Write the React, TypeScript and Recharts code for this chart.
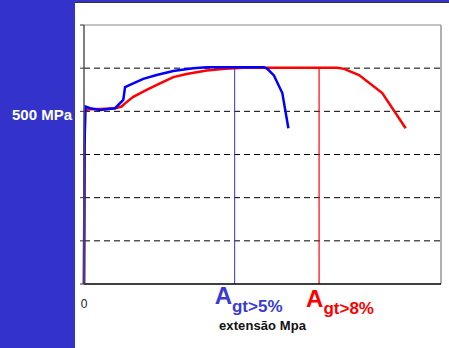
import { LineChart, Line, XAxis, YAxis, ReferenceLine } from 'recharts';

// --- Data (strain %, stress MPa) ---
const blueStrain = [0, 0.03, 0.08, 0.34, 0.9, 1.74, 2.2, 2.3, 2.76, 3.32, 4.07, 5.0, 6.12, 6.87, 10.08, 10.27, 10.64, 11.11, 11.45];
const blueStress = [0, 400, 514, 509, 504, 509, 533, 570, 581, 594, 605, 617, 625, 628, 628, 623, 604, 553, 451];

const redStrain = [0, 0.03, 0.06, 0.34, 0.9, 1.74, 2.11, 2.3, 2.76, 3.51, 4.26, 5.0, 5.75, 6.87, 7.9, 8.96, 14.19, 14.57, 15.41, 16.71, 18.02];
const redStress = [0, 400, 504, 506, 507, 509, 514, 523, 542, 562, 581, 599, 608, 618, 623, 626, 626, 623, 605, 553, 451];

const yTicks = [0, 125, 250, 375, 500, 625, 750];
const gridValues = [125, 250, 375, 500, 625];
const agtBlue = 8.44;
const agtRed = 13.17;
const agtStress = 627;

const blueData = blueStrain.map((x, i) => ({ x, y: blueStress[i] }));
const redData = redStrain.map((x, i) => ({ x, y: redStress[i] }));

const FONT = '"Liberation Sans", Arial, sans-serif';
const PANEL = '#3333cc';

function YTick(props: any) {
    const { y, payload } = props;
    if (payload.value !== 500) return <g />;
    return (
        <text x={72} y={y + 9} textAnchor="end" fill="#fff" fontWeight="bold" fontSize={15} fontFamily={FONT}>
            500 MPa
        </text>
    );
}

function XTick(props: any) {
    const { x, y, payload } = props;
    return (
        <text x={x} y={y + 22} textAnchor="middle" fill="#222" fontSize={12} fontFamily={FONT}>
            {payload.value}
        </text>
    );
}

function AgtLabel(props: any) {
    const { viewBox, color, sub, dx, dy } = props;
    const bottom = viewBox.y + viewBox.height;
    return (
        <text x={viewBox.x + dx} y={bottom + dy} fill={color} fontWeight="bold" fontFamily={FONT}>
            <tspan fontSize={24}>A</tspan>
            <tspan fontSize={17} dy={7.5}>{sub}</tspan>
        </text>
    );
}

export default function App() {
    return (
        <div style={{ position: 'fixed', left: 0, top: 0, width: 449, height: 348, background: '#fff', overflow: 'hidden' }}>
            <div style={{ position: 'absolute', left: 0, top: 0, width: 75, height: 348, background: PANEL }} />
            <div style={{ position: 'absolute', left: 0, top: 0, width: 449, height: 2, background: PANEL }} />
            <div style={{ position: 'absolute', left: 75, top: 2, width: 374, height: 1, background: '#333' }} />
            <div style={{ position: 'absolute', left: 0, top: 0 }}>
                <LineChart width={449} height={348} margin={{ top: 25, right: 8, left: 0, bottom: 0 }}>
                    <XAxis
                        type="number"
                        dataKey="x"
                        domain={[0, 20]}
                        ticks={[0]}
                        height={64}
                        tickSize={0}
                        tick={<XTick />}
                        axisLine={{ stroke: '#000', strokeWidth: 1.5 }}
                    />
                    <YAxis
                        type="number"
                        dataKey="y"
                        domain={[0, 750]}
                        ticks={yTicks}
                        width={84}
                        tickSize={4}
                        tickLine={{ stroke: '#333' }}
                        tick={<YTick />}
                        axisLine={{ stroke: '#555', strokeWidth: 1.5 }}
                    />
                    {gridValues.map((v) => (
                        <ReferenceLine key={v} y={v} stroke="#000" strokeDasharray="6 4" />
                    ))}
                    <ReferenceLine y={750} stroke="#888" />
                    <ReferenceLine x={20} stroke="#b0b0b0" strokeWidth={2} />
                    <ReferenceLine
                        segment={[{ x: agtBlue, y: 0 }, { x: agtBlue, y: agtStress }]}
                        stroke="#3333ee"
                        strokeWidth={1}
                        label={<AgtLabel color="#3a3ad0" sub="gt>5%" dx={-20} dy={20} />}
                    />
                    <ReferenceLine
                        segment={[{ x: agtRed, y: 0 }, { x: agtRed, y: agtStress }]}
                        stroke="#ff0000"
                        strokeWidth={1.2}
                        label={<AgtLabel color="#ff0000" sub="gt>8%" dx={-13} dy={22.5} />}
                    />
                    <Line data={redData} dataKey="y" stroke="#ff0000" strokeWidth={2.5} dot={false} isAnimationActive={false} />
                    <Line data={blueData} dataKey="y" stroke="#0000ff" strokeWidth={2.5} dot={false} isAnimationActive={false} />
                </LineChart>
            </div>
            <div
                style={{
                    position: 'absolute',
                    left: 219,
                    top: 318,
                    fontFamily: FONT,
                    fontWeight: 'bold',
                    fontSize: 13,
                    letterSpacing: 0.1,
                    color: '#111',
                    whiteSpace: 'nowrap',
                }}
            >
                extensão Mpa
            </div>
        </div>
    );
}
